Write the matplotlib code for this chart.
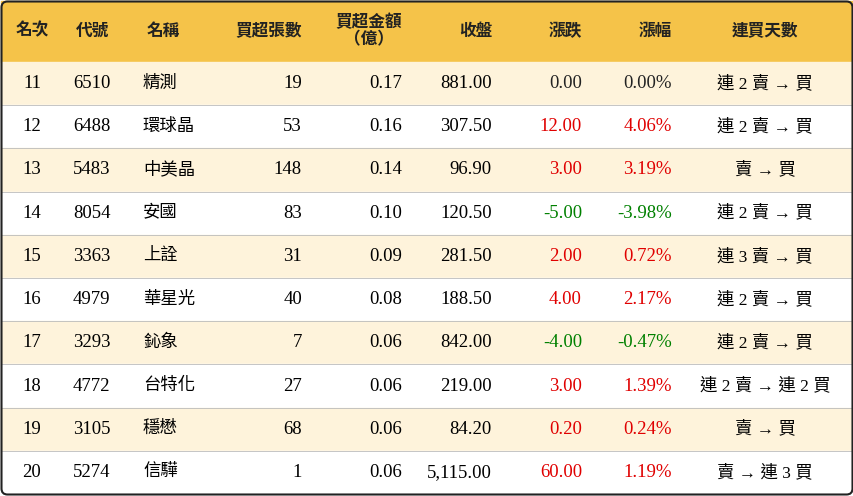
import matplotlib
matplotlib.use("Agg")
import matplotlib.pyplot as plt
from matplotlib.patches import Rectangle, FancyBboxPatch

headers = ["名次", "代號", "名稱", "買超張數", "買超金額\n（億）", "收盤", "漲跌", "漲幅", "連買天數"]
rank = ["11", "12", "13", "14", "15", "16", "17", "18", "19", "20"]
code = ["6510", "6488", "5483", "8054", "3363", "4979", "3293", "4772", "3105", "5274"]
name = ["精測", "環球晶", "中美晶", "安國", "上詮", "華星光", "鈊象", "台特化", "穩懋", "信驊"]
lots = ["19", "53", "148", "83", "31", "40", "7", "27", "68", "1"]
amount = ["0.17", "0.16", "0.14", "0.10", "0.09", "0.08", "0.06", "0.06", "0.06", "0.06"]
close = ["881.00", "307.50", "96.90", "120.50", "281.50", "188.50", "842.00", "219.00", "84.20", "5,115.00"]
change = [0.00, 12.00, 3.00, -5.00, 2.00, 4.00, -4.00, 3.00, 0.20, 60.00]
pct = [0.00, 4.06, 3.19, -3.98, 0.72, 2.17, -0.47, 1.39, 0.24, 1.19]
streak = ["連 2 賣 → 買", "連 2 賣 → 買", "賣 → 買", "連 2 賣 → 買", "連 3 賣 → 買",
          "連 2 賣 → 買", "連 2 賣 → 買", "連 2 賣 → 連 2 買", "賣 → 買", "賣 → 連 3 買"]

plt.rcParams["font.family"] = ["Liberation Serif", "Noto Sans CJK TC"]
W, H = 854, 496
fig = plt.figure(figsize=(W/100, H/100), dpi=100)
ax = fig.add_axes([0, 0, 1, 1])
ax.set_xlim(0, W); ax.set_ylim(H, 0); ax.axis("off")

top, hh, rh = 1, 61, 43.2
ax.add_patch(Rectangle((1, top), W-2, hh, color="#F5C349", zorder=0))
for i in range(len(rank)):
    y0 = top + hh + i*rh
    ax.add_patch(Rectangle((1, y0), W-2, rh, color="#FEF3DB" if i % 2 == 0 else "white", zorder=0))
    if i > 0:
        ax.plot([1, W-1], [y0, y0], color="#BBBBBB", lw=0.6, zorder=1)
ax.add_patch(FancyBboxPatch((1.5, 1.5), W-3, H-3, boxstyle="round,pad=0,rounding_size=6",
                            fill=False, ec="#222222", lw=1.5, zorder=3))

hcols = [(32, "center"), (92, "center"), (163, "center"), (302, "right"), (402, "right"),
         (492, "right"), (582, "right"), (672, "right"), (765, "center")]
for (x, ha), t in zip(hcols, headers):
    ax.text(x, top + hh/2, t, ha=ha, va="center", fontsize=12, color="#222222",
            fontweight="bold", linespacing=1.15, multialignment="center")

def col(v):
    return "#E00000" if v > 0 else ("#008000" if v < 0 else "#222222")

fs = 13.5
for i in range(len(rank)):
    y = top + hh + i*rh + rh/2
    ax.text(32, y, rank[i], ha="center", va="center", fontsize=fs)
    ax.text(73, y, code[i], ha="left", va="center", fontsize=fs)
    ax.text(143, y, name[i], ha="left", va="center", fontsize=12.5)
    ax.text(302, y, lots[i], ha="right", va="center", fontsize=fs)
    ax.text(402, y, amount[i], ha="right", va="center", fontsize=fs)
    ax.text(492, y, close[i], ha="right", va="center", fontsize=fs)
    ax.text(582, y, f"{change[i]:.2f}", ha="right", va="center", fontsize=fs, color=col(change[i]))
    ax.text(672, y, f"{pct[i]:.2f}%", ha="right", va="center", fontsize=fs, color=col(pct[i]))
    ax.text(765, y, streak[i], ha="center", va="center", fontsize=12.5)

fig.savefig("out.png", dpi=100)
